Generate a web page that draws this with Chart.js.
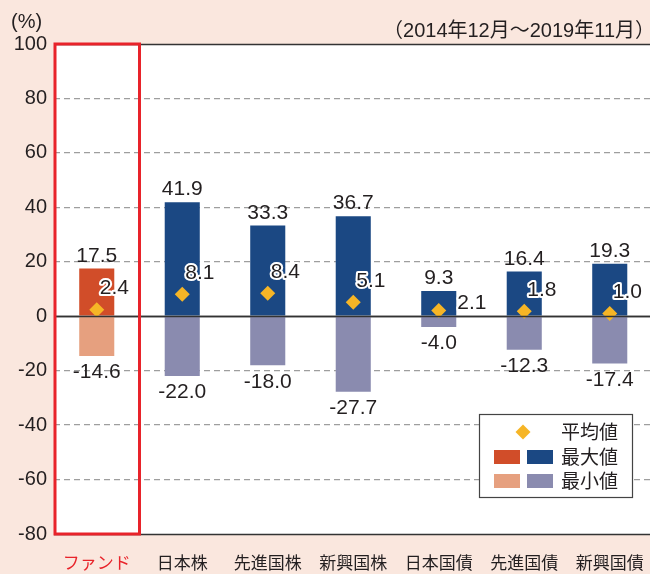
<!DOCTYPE html>
<html>
<head>
<meta charset="utf-8">
<script src="https://cdn.jsdelivr.net/npm/chart.js@4.4.1/dist/chart.umd.min.js"></script>
<style>
html,body{margin:0;padding:0;background:#FAE7DE;overflow:hidden;}
#wrap{position:absolute;left:0;top:0;width:660px;height:574px;}
</style>
</head>
<body>
<div id="wrap"><canvas id="c" width="660" height="574"></canvas></div>
<script>
const categories = ['ファンド','日本株','先進国株','新興国株','日本国債','先進国債','新興国債'];
const maxValues  = [17.5, 41.9, 33.3, 36.7, 9.3, 16.4, 19.3];
const minValues  = [-14.6, -22.0, -18.0, -27.7, -4.0, -12.3, -17.4];
const meanValues = [2.4, 8.1, 8.4, 5.1, 2.1, 1.8, 1.0];
const yTickValues = [100, 80, 60, 40, 20, 0, -20, -40, -60, -80];
const legendLabels = ['平均値', '最大値', '最小値'];
const periodLabel = '（2014年12月～2019年11月）';
const unitLabel = '(%)';

const C = {
  fundMax: '#D14D29', fundMin: '#E6A07F',
  max: '#1B4883', min: '#8A8BAF',
  mean: '#F6B526', red: '#E8232A', text: '#231F20', grid: '#9E9E9E'
};
const NUM_FONT = '"Liberation Sans", Arial, sans-serif';
const JP_FONT = '"Noto Sans CJK JP", sans-serif';
const MIX_FONT = '"Liberation Sans", "Noto Sans CJK JP", sans-serif';

const fmt = v => v.toFixed(1);

const decorPlugin = {
  id: 'decor',
  beforeDraw(chart) {
    const {ctx, chartArea: a} = chart;
    ctx.save();
    ctx.fillStyle = '#FFFFFF';
    ctx.fillRect(a.left, a.top, a.right - a.left, a.bottom - a.top);
    ctx.restore();
  },
  beforeDatasetsDraw(chart) {
    const {ctx, chartArea: a, scales: {y}} = chart;
    ctx.save();
    ctx.strokeStyle = '#333333';
    ctx.lineWidth = 1.5;
    [100, 0, -80].forEach(v => {
      const py = Math.round(y.getPixelForValue(v)) + 0.5;
      ctx.beginPath(); ctx.moveTo(a.left, py); ctx.lineTo(a.right, py); ctx.stroke();
    });
    ctx.restore();
  },
  afterDatasetsDraw(chart) {
    const {ctx, scales: {x, y}} = chart;
    ctx.save();
    ctx.strokeStyle = '#333333';
    ctx.lineWidth = 1.5;
    const zy = Math.round(y.getPixelForValue(0)) + 0.5;
    ctx.beginPath(); ctx.moveTo(chart.chartArea.left, zy); ctx.lineTo(chart.chartArea.right, zy); ctx.stroke();

    ctx.font = '21px ' + NUM_FONT;
    ctx.fillStyle = C.text;
    ctx.textAlign = 'center';
    const maxMeta = chart.getDatasetMeta(0);
    const minMeta = chart.getDatasetMeta(1);
    const meanMeta = chart.getDatasetMeta(2);
    maxMeta.data.forEach((bar, i) => {
      ctx.textBaseline = 'alphabetic';
      ctx.fillText(fmt(maxValues[i]), bar.x, bar.y - 7);
    });
    minMeta.data.forEach((bar, i) => {
      ctx.textBaseline = 'top';
      ctx.fillText(fmt(minValues[i]), bar.x, bar.y + 6);
    });
    ctx.textAlign = 'left';
    ctx.textBaseline = 'middle';
    ctx.lineJoin = 'round';
    meanMeta.data.forEach((pt, i) => {
      const bw = maxMeta.data[i].width;
      let tx = pt.x + 3, ty = pt.y - 21;
      if (maxValues[i] - meanValues[i] < 10) { tx = pt.x + bw / 2 + 1; ty = pt.y - 7; }
      const s = fmt(meanValues[i]);
      ctx.strokeStyle = '#FFFFFF';
      ctx.lineWidth = 4;
      ctx.strokeText(s, tx, ty);
      ctx.fillStyle = C.text;
      ctx.fillText(s, tx, ty);
    });
    ctx.restore();
  },
  afterDraw(chart) {
    const {ctx, chartArea: a, scales: {x}} = chart;
    ctx.save();
    const rx = (x.getPixelForValue(0) + x.getPixelForValue(1)) / 2;
    ctx.strokeStyle = C.red;
    ctx.lineWidth = 3;
    ctx.strokeRect(a.left + 1, a.top, rx - a.left - 1, a.bottom - a.top);

    ctx.fillStyle = C.text;
    ctx.font = '20px ' + NUM_FONT;
    ctx.textAlign = 'left';
    ctx.textBaseline = 'middle';
    ctx.fillText(unitLabel, 11, 22);
    ctx.font = '20px ' + MIX_FONT;
    ctx.textAlign = 'right';
    ctx.fillText(periodLabel, 655, 31);

    const L = {x: 479.5, y: 414.5, w: 153, h: 83};
    ctx.fillStyle = '#FFFFFF';
    ctx.fillRect(L.x, L.y, L.w, L.h);
    ctx.strokeStyle = '#444444';
    ctx.lineWidth = 1.2;
    ctx.strokeRect(L.x, L.y, L.w, L.h);
    ctx.fillStyle = C.mean;
    ctx.beginPath();
    const dx = 523, dy = 432, r = 7.5;
    ctx.moveTo(dx, dy - r); ctx.lineTo(dx + r, dy); ctx.lineTo(dx, dy + r); ctx.lineTo(dx - r, dy); ctx.closePath();
    ctx.fill();
    ctx.fillStyle = C.fundMax; ctx.fillRect(494, 450, 26, 14);
    ctx.fillStyle = C.max; ctx.fillRect(527, 450, 26, 14);
    ctx.fillStyle = C.fundMin; ctx.fillRect(494, 474, 26, 14);
    ctx.fillStyle = C.min; ctx.fillRect(527, 474, 26, 14);
    ctx.fillStyle = C.text;
    ctx.font = '19px ' + JP_FONT;
    ctx.textAlign = 'left';
    ctx.textBaseline = 'middle';
    ctx.fillText(legendLabels[0], 561, 432);
    ctx.fillText(legendLabels[1], 561, 457);
    ctx.fillText(legendLabels[2], 561, 481);
    ctx.restore();
  }
};

new Chart(document.getElementById('c'), {
  data: {
    labels: categories,
    datasets: [
      {
        type: 'bar', label: '最大値', data: maxValues,
        backgroundColor: maxValues.map((v, i) => i === 0 ? C.fundMax : C.max),
        categoryPercentage: 1, barPercentage: 0.41, borderWidth: 0, stack: 'range', order: 2
      },
      {
        type: 'bar', label: '最小値', data: minValues,
        backgroundColor: minValues.map((v, i) => i === 0 ? C.fundMin : C.min),
        categoryPercentage: 1, barPercentage: 0.41, borderWidth: 0, stack: 'range', order: 2
      },
      {
        type: 'line', label: '平均値', data: meanValues, showLine: false,
        pointStyle: 'rectRot', pointRadius: 7.5, pointHoverRadius: 7.5,
        pointBackgroundColor: C.mean, pointBorderWidth: 0, borderWidth: 0,
        stack: 'mean', order: 1
      }
    ]
  },
  options: {
    responsive: false,
    animation: false,
    events: [],
    layout: {padding: {top: 44, right: 6, left: 0, bottom: 0}},
    plugins: {legend: {display: false}, tooltip: {enabled: false}},
    scales: {
      x: {
        stacked: true,
        grid: {display: false},
        border: {display: false},
        ticks: {
          padding: 10,
          font: {family: JP_FONT, size: 17},
          color: ctx => ctx.index === 0 ? C.red : C.text,
          maxRotation: 0, autoSkip: false
        },
        afterFit: s => { s.height = 40; }
      },
      y: {
        stacked: true,
        min: -80, max: 100,
        afterBuildTicks: s => { s.ticks = yTickValues.map(v => ({value: v})); },
        ticks: {
          padding: 7,
          font: {family: NUM_FONT, size: 20},
          color: C.text
        },
        grid: {
          drawTicks: false,
          color: ctx => (ctx.tick && [100, 0, -80].includes(ctx.tick.value)) ? 'rgba(0,0,0,0)' : C.grid,
          lineWidth: 1.3
        },
        border: {display: false, dash: [6, 4]},
        afterFit: s => { s.width = 54; }
      }
    }
  },
  plugins: [decorPlugin]
});
</script>
</body>
</html>
